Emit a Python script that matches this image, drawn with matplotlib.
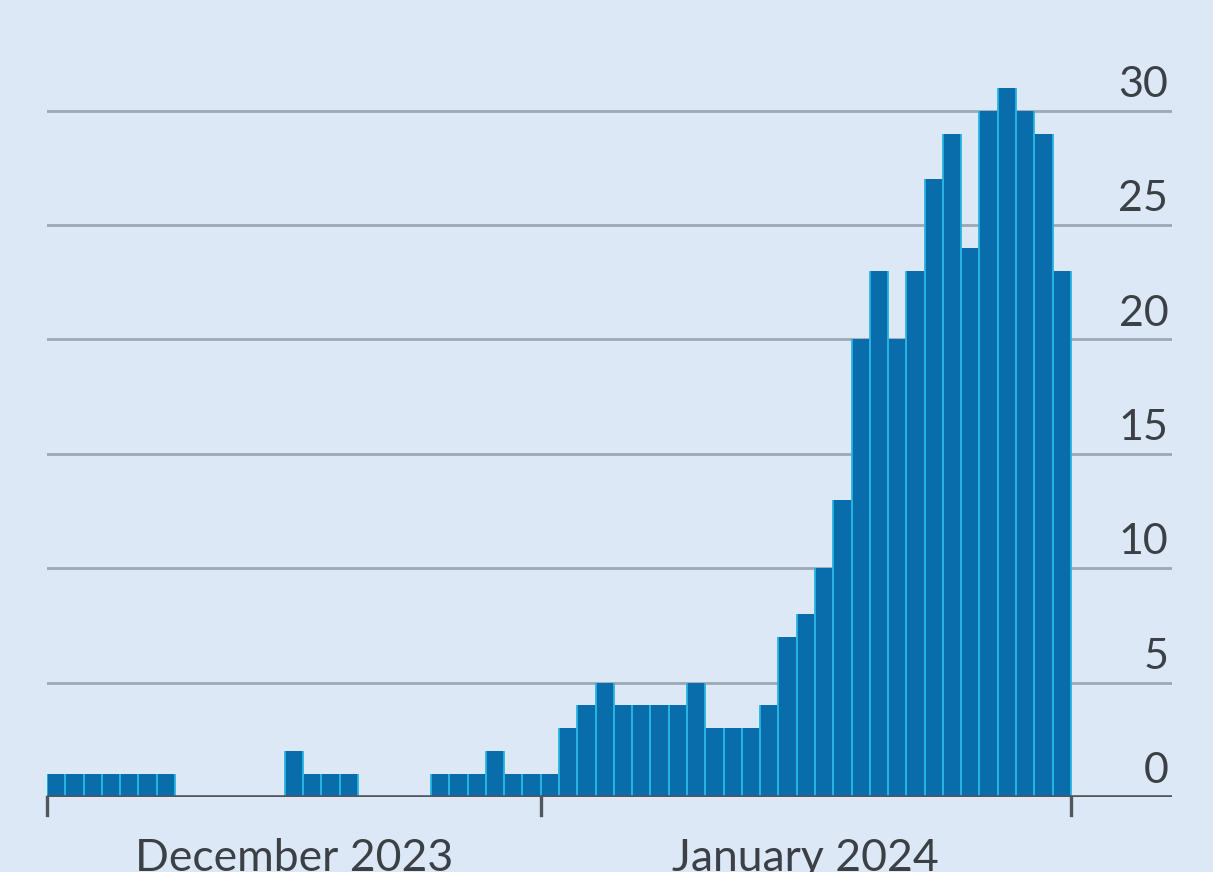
import matplotlib
matplotlib.use("Agg")
import matplotlib.pyplot as plt
import numpy as np

# daily counts, one bar per day
counts = [1, 1, 1, 1, 1, 1, 1,
          0, 0, 0, 0, 0, 0,
          2, 1, 1, 1,
          0, 0, 0, 0,
          1, 1, 1, 2, 1, 1, 1,
          3, 4, 5, 4, 4, 4, 4, 5, 3, 3, 3, 4,
          7, 8, 10, 13, 20, 23, 20, 23, 27, 29, 24, 30, 31, 30, 29, 23]
months = ["December 2023", "January 2024"]
month_start = [0, 27]   # index of first bar in each month
yticks = [0, 5, 10, 15, 20, 25, 30]

bg = "#dce8f6"
bar_col = "#0a6dab"
edge_col = "#27b3e3"
grid_col = "#9ea8b3"
axis_col = "#50565c"
text_col = "#3b4046"

plt.rcParams['font.family'] = ['Lato', 'DejaVu Sans']

fig = plt.figure(figsize=(12.13, 8.72), dpi=100)
fig.patch.set_facecolor(bg)
ax = fig.add_axes([47 / 1213, 75 / 872, (1172 - 47) / 1213, (797 - 42) / 872])
ax.set_facecolor(bg)

n = len(counts)
x = np.arange(n)
x_right = (1172 - 48) / ((1071 - 48) / n) - 0.5
ax.set_xlim(-0.5, x_right)
ax.set_ylim(0, 33)

for t in yticks[1:]:
    ax.axhline(t, color=grid_col, lw=2.0, zorder=1)

ax.bar(x, counts, width=1.0, color=bar_col, linewidth=0, zorder=2)
# light stripes down the sides of each bar, no outline on top
h = np.array(counts)
ax.vlines(x - 0.5, 0, h, color=edge_col, lw=1.3, zorder=2.5)
ax.vlines(x + 0.5, 0, h, color=edge_col, lw=1.3, zorder=2.5)

ax.axhline(0, color=axis_col, lw=2.6, zorder=3)

for t in yticks:
    ax.text(x_right - 0.2, t + 0.3, str(t), ha='right', va='bottom',
            fontsize=31, color=text_col, zorder=4)

# month boundary ticks and centred month labels
edges = [s - 0.5 for s in month_start] + [n - 0.5]
for e in edges:
    ax.plot([e, e], [0, -0.8], color=axis_col, lw=2.4, clip_on=False, zorder=3)
for i, m in enumerate(months):
    mid = (edges[i] + edges[i + 1]) / 2
    ax.text(mid, -1.8, m, ha='center', va='top', fontsize=32,
            color=text_col)

for s in ax.spines.values():
    s.set_visible(False)
ax.set_xticks([])
ax.set_yticks([])

fig.savefig("out.png", dpi=100, facecolor=bg)
